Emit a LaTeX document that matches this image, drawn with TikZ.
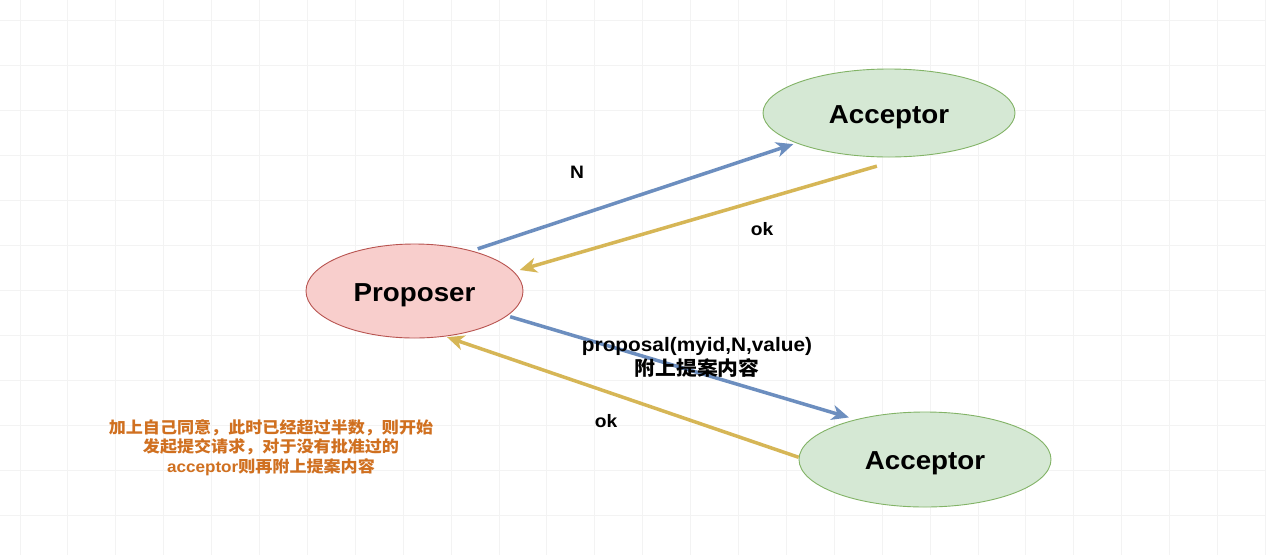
\documentclass[tikz,border=0pt]{standalone}
\usepackage{fontspec}
\setmainfont{Liberation Sans}[FakeStretch=1.067]
\newfontfamily\cjk{Noto Sans CJK SC}[FakeStretch=1.067]
\usetikzlibrary{shapes.geometric,arrows.meta}
\definecolor{blueA}{HTML}{6C8EBF}
\definecolor{yelA}{HTML}{D6B656}
\definecolor{redF}{HTML}{F8CECC}
\definecolor{redD}{HTML}{B85450}
\definecolor{grnF}{HTML}{D5E8D4}
\definecolor{grnD}{HTML}{82B366}
\definecolor{orgT}{HTML}{D07020}
\definecolor{gridC}{HTML}{F3F3F3}
\tikzset{
  gridline/.style={draw=gridC, line width=1pt},
  ell/.style={ellipse, line width=0.9pt, inner sep=0pt, text height=26pt, text depth=5.5pt, font=\bfseries\fontsize{26}{30}\selectfont},
  proposerbox/.style={ell, fill=redF, draw=redD, minimum width=217pt, minimum height=94pt},
  acceptorbox/.style={ell, fill=grnF, draw=grnD, minimum width=252pt},
  conn/.style={line width=3.5pt, -{Stealth[length=17pt,width=15pt,inset=5pt]}},
  blueconn/.style={conn, draw=blueA, color=blueA},
  yelconn/.style={conn, draw=yelA, color=yelA},
  lbl/.style={inner sep=0pt, font=\bfseries\fontsize{18}{22}\selectfont},
  plbl/.style={inner sep=0pt, align=center, font=\bfseries\fontsize{19.5}{24}\selectfont},
  otext/.style={inner sep=0pt, align=center, text=orgT, font=\bfseries\fontsize{16}{19.5}\selectfont}
}
\begin{document}
\begin{tikzpicture}[x=1pt,y=-1pt]
\useasboundingbox (0,0) rectangle (1266,555);
\fill[white] (0,0) rectangle (1266,555);
\foreach \i in {0,...,26} \draw[gridline] (20+47.9*\i,0) -- (20+47.9*\i,555);
\foreach \j in {0,...,11} \draw[gridline] (0,20+45*\j) -- (1266,20+45*\j);

\node[proposerbox] (p) at (414.5,291) {Proposer};
\node[acceptorbox, minimum height=88pt] (a1) at (889,113) {Acceptor};
\node[acceptorbox, minimum height=95pt] (a2) at (925,459.5) {Acceptor};

\draw[blueconn, shorten <=6pt, shorten >=3pt] (p.35) -- (a1.198);
\draw[yelconn, shorten <=33pt, shorten >=6pt] (a1.294) -- (p.11);
\draw[blueconn, shorten <=3pt, shorten >=7pt] (p.-15) -- (a2.150);
\draw[yelconn, shorten >=2pt] (a2.179) -- (p.-56);

\node[lbl] (nl) at (577,172) {N};
\node[lbl] (ok1) at (762,229) {ok};
\node[lbl] (ok2) at (606,421) {ok};
\node[plbl] (pl) at (697,357) {proposal(myid,N,value)\\{\cjk 附上提案内容}};
\node[otext] (note) at (271,447.5) {{\cjk 加上自己同意，此时已经超过半数，则开始}\\{\cjk 发起提交请求，对于没有批准过的}\\acceptor{\cjk 则再附上提案内容}};
\end{tikzpicture}
\end{document}
